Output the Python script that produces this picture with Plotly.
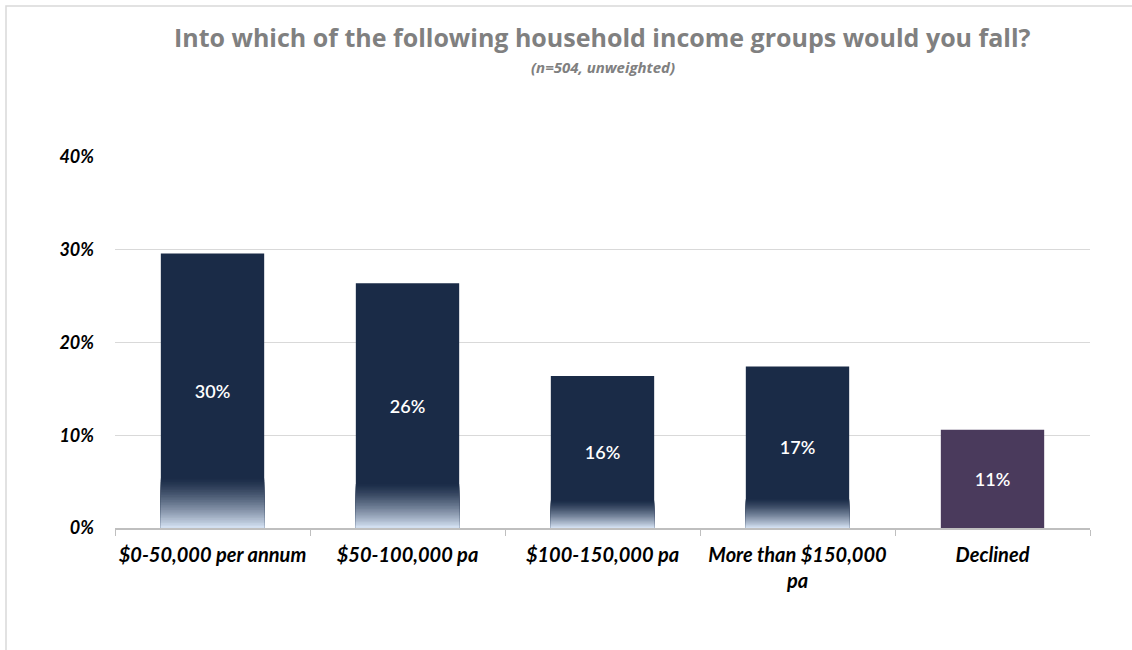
import plotly.graph_objects as go

# Survey results: household income groups
categories = ["$0-50,000 per annum", "$50-100,000 pa", "$100-150,000 pa",
              "More than $150,000<br>pa", "Declined"]
shares = [0.296, 0.264, 0.164, 0.174, 0.106]
bar_colors = ["#1a2b47", "#1a2b47", "#1a2b47", "#1a2b47", "#4a3a5c"]
# which bars get the pale fade at their base
faded = [True, True, True, True, False]

y_ticks = [0, 0.1, 0.2, 0.3, 0.4]

W, H = 1132, 650
ML, MR, MT, MB = 115, 42, 157, 122
plot_w = W - ML - MR
plot_h = H - MT - MB

FADE_FRACTION = 0.18
FADE_STEPS = 30
DARK = (0x1a, 0x2b, 0x47)
LIGHT = (0xd2, 0xdf, 0xf0)


def mix(t):
    r, g, b = (round(LIGHT[i] + (DARK[i] - LIGHT[i]) * t) for i in range(3))
    return f"rgb({r},{g},{b})"


fig = go.Figure()

fig.add_trace(go.Bar(
    x=categories, y=shares,
    marker=dict(color=bar_colors, line=dict(width=0)),
    width=0.53,
    text=shares, texttemplate="%{y:.0%}",
    textposition="inside", insidetextanchor="middle",
    textfont=dict(family="Lato", size=18, color="white", weight=600),
    hoverinfo="skip", showlegend=False,
))

# pale fade at the foot of the income bars: shorter, lighter layers on top
fade_x = [c for c, f in zip(categories, faded) if f]
fade_top = [v * FADE_FRACTION for v, f in zip(shares, faded) if f]
for k in range(1, FADE_STEPS + 1):
    t = 1 - k / FADE_STEPS
    heights = [h * (1 - (k - 1) / FADE_STEPS) for h in fade_top]
    fig.add_trace(go.Bar(
        x=fade_x, y=heights,
        marker=dict(color=mix(1 - (1 - t) ** 1.3), line=dict(width=0)),
        width=0.53, hoverinfo="skip", showlegend=False,
    ))


def px_x(p):
    return (p - ML) / plot_w


def px_y(p):
    return (H - MB - p) / plot_h


fig.update_layout(
    width=W, height=H,
    margin=dict(l=ML, r=MR, t=MT, b=MB, autoexpand=False),
    barmode="overlay",
    plot_bgcolor="white", paper_bgcolor="white",
    font=dict(family="Lato", color="black"),
    annotations=[
        dict(text="<b>Into which of the following household income groups would you fall?</b>",
             xref="paper", yref="paper", x=0.5, y=px_y(37), xanchor="center", yanchor="middle",
             showarrow=False, font=dict(family="Open Sans", size=25, color="#808080")),
        dict(text="<b><i>(n=504, unweighted)</i></b>",
             xref="paper", yref="paper", x=0.5, y=px_y(67), xanchor="center", yanchor="middle",
             showarrow=False, font=dict(family="Open Sans", size=15, color="#808080")),
    ],
    shapes=[
        dict(type="rect", xref="paper", yref="paper",
             x0=px_x(6), x1=px_x(1150), y0=px_y(670), y1=px_y(6),
             line=dict(color="#d9d9d9", width=1.5), fillcolor="rgba(0,0,0,0)", layer="below"),
    ],
)

fig.update_xaxes(
    type="category",
    showline=True, linecolor="#bfbfbf", linewidth=1.5,
    ticks="outside", tickson="boundaries", ticklen=6, tickcolor="#bfbfbf",
    ticklabelstandoff=8, tickangle=0, automargin=False,
    tickfont=dict(family="Lato", size=20, color="black", weight="bold", style="italic"),
    showgrid=False, fixedrange=True,
)
fig.update_yaxes(
    range=[0, 0.4], tickvals=y_ticks, tickformat=".0%",
    showgrid=True, gridcolor="#d9d9d9", gridwidth=1,
    zeroline=False, showline=False, automargin=False,
    ticks="", ticklabelstandoff=20,
    tickfont=dict(family="Lato", size=18, color="black", weight="bold", style="italic"),
    fixedrange=True,
)

fig.write_html("out.html")
